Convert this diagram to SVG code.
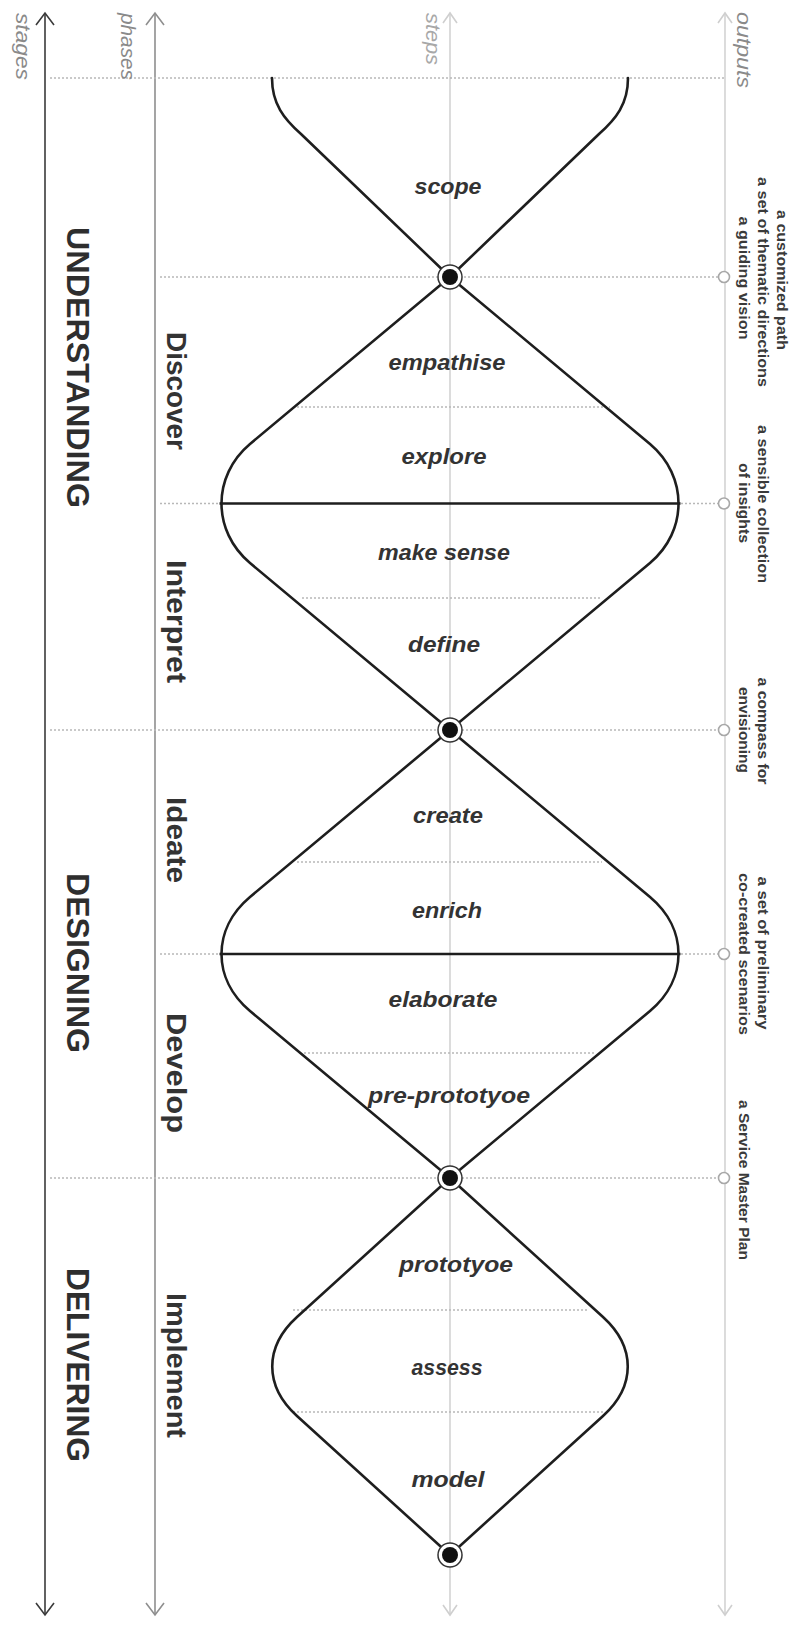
<svg xmlns="http://www.w3.org/2000/svg" width="795" height="1636" viewBox="0 0 795 1636">
  <defs>
    <style>
      .axis-stage{stroke:#3a3a3a;stroke-width:1.6;fill:none}
      .axis-phase{stroke:#8e8e8e;stroke-width:1.6;fill:none}
      .axis-light{stroke:#d8d8d8;stroke-width:1.8;fill:none}
      .dots{stroke:#b8b8b8;stroke-width:1.4;stroke-dasharray:2 2;fill:none}
      .curve{fill:none;stroke:#1e1e1e;stroke-width:2.6;stroke-linejoin:round;stroke-linecap:round}
      .divide{stroke:#1e1e1e;stroke-width:2.6}
      .out-dot{fill:#fff;stroke:#a8a8a8;stroke-width:1.6}
      .hub-ring{fill:#fff;stroke:#333;stroke-width:1.5}
      .hub-core{fill:#111}
      text{font-family:"Liberation Sans",Arial,sans-serif}
      .axis-label{font-style:italic;font-size:20px;fill:#8a8a8a}
      .axis-label.light{fill:#a8a8a8}
      .stage{font-weight:bold;font-size:32px;fill:#2e2e2e}
      .phase{font-weight:bold;font-size:28px;fill:#333}
      .step{font-weight:bold;font-style:italic;font-size:22px;fill:#333;text-anchor:middle}
      .output{font-weight:bold;font-size:15px;fill:#3a3a3a;text-anchor:middle}
    </style>
    <marker id="chev-dark" markerUnits="userSpaceOnUse" viewBox="0 0 13 20" refX="12" refY="10" markerWidth="13" markerHeight="20" orient="auto-start-reverse" overflow="visible">
      <path d="M0 1 L12 10 L0 19" fill="none" stroke="#3a3a3a" stroke-width="1.6"/>
    </marker>
    <marker id="chev-mid" markerUnits="userSpaceOnUse" viewBox="0 0 13 20" refX="12" refY="10" markerWidth="13" markerHeight="20" orient="auto-start-reverse" overflow="visible">
      <path d="M0 1 L12 10 L0 19" fill="none" stroke="#8e8e8e" stroke-width="1.6"/>
    </marker>
    <marker id="chev-light" markerUnits="userSpaceOnUse" viewBox="0 0 11 16" refX="10" refY="8" markerWidth="11" markerHeight="16" orient="auto-start-reverse" overflow="visible">
      <path d="M0 1 L10 8 L0 15" fill="none" stroke="#cfcfcf" stroke-width="1.6"/>
    </marker>
  </defs>

  <rect width="795" height="1636" fill="#fff"/>

  <!-- four vertical axes, double-headed -->
  <g id="axes">
    <line class="axis-stage" x1="45" y1="13" x2="45" y2="1615" marker-start="url(#chev-dark)" marker-end="url(#chev-dark)"/>
    <line class="axis-phase" x1="155" y1="13" x2="155" y2="1615" marker-start="url(#chev-mid)" marker-end="url(#chev-mid)"/>
    <line class="axis-light" x1="450" y1="13" x2="450" y2="1615" marker-start="url(#chev-light)" marker-end="url(#chev-light)"/>
    <line class="axis-light" x1="725" y1="13" x2="725" y2="1615" marker-start="url(#chev-light)" marker-end="url(#chev-light)"/>
  </g>

  <!-- dotted guide lines: stage, phase and step boundaries -->
  <g id="guides">
    <line class="dots" x1="50" y1="78" x2="725" y2="78"/>
    <line class="dots" x1="160" y1="277" x2="718" y2="277"/>
    <line class="dots" x1="160" y1="503.5" x2="220" y2="503.5"/>
    <line class="dots" x1="681" y1="503.5" x2="718" y2="503.5"/>
    <line class="dots" x1="50" y1="730" x2="718" y2="730"/>
    <line class="dots" x1="160" y1="954" x2="220" y2="954"/>
    <line class="dots" x1="681" y1="954" x2="718" y2="954"/>
    <line class="dots" x1="50" y1="1178" x2="718" y2="1178"/>
    <line class="dots" x1="297" y1="407" x2="610" y2="407"/>
    <line class="dots" x1="302" y1="598" x2="600" y2="598"/>
    <line class="dots" x1="297" y1="862" x2="602" y2="862"/>
    <line class="dots" x1="304" y1="1053" x2="596" y2="1053"/>
    <line class="dots" x1="293" y1="1310" x2="587" y2="1310"/>
    <line class="dots" x1="293" y1="1412" x2="603" y2="1412"/>
  </g>

  <!-- diverging / converging process shapes -->
  <g id="connectors">
    <path id="funnel-scope" class="curve" d="M272 78 C272 104 284 119 301 134 L450 277 L599 134 C616 119 628 104 628 78"/>
    <path id="diamond-understanding" class="curve" d="M450 277 L250 444 C212 476 212 531 250 563 L450 730 L650 563 C688 531 688 476 650 444 Z"/>
    <line class="divide" x1="219.5" y1="503.5" x2="680.5" y2="503.5"/>
    <path id="diamond-designing" class="curve" d="M450 730 L250 897 C212 929 212 979 250 1011 L450 1178 L650 1011 C688 979 688 929 650 897 Z"/>
    <line class="divide" x1="219.5" y1="954" x2="680.5" y2="954"/>
    <path id="diamond-delivering" class="curve" d="M450 1178 L297 1317 C264 1347 264 1386 297 1416 L450 1555 L603 1416 C636 1386 636 1347 603 1317 Z"/>
  </g>

  <!-- milestone hubs on the steps axis -->
  <g id="hub-1"><circle class="hub-ring" cx="450" cy="277" r="12"/><circle class="hub-core" cx="450" cy="277" r="8"/></g>
  <g id="hub-2"><circle class="hub-ring" cx="450" cy="730" r="12"/><circle class="hub-core" cx="450" cy="730" r="8"/></g>
  <g id="hub-3"><circle class="hub-ring" cx="450" cy="1178" r="12"/><circle class="hub-core" cx="450" cy="1178" r="8"/></g>
  <g id="hub-4"><circle class="hub-ring" cx="450" cy="1555" r="12"/><circle class="hub-core" cx="450" cy="1555" r="8"/></g>

  <!-- output markers on the outputs axis -->
  <g id="output-dots">
    <circle class="out-dot" cx="724" cy="277" r="5.5"/>
    <circle class="out-dot" cx="724" cy="503.5" r="5.5"/>
    <circle class="out-dot" cx="724" cy="730" r="5.5"/>
    <circle class="out-dot" cx="724" cy="954" r="5.5"/>
    <circle class="out-dot" cx="724" cy="1178" r="5.5"/>
  </g>

  <!-- axis titles -->
  <g id="axis-titles">
    <text class="axis-label" transform="translate(16 13) rotate(90)" textLength="67" lengthAdjust="spacingAndGlyphs">stages</text>
    <text class="axis-label" transform="translate(121 13) rotate(90)" textLength="67" lengthAdjust="spacingAndGlyphs">phases</text>
    <text class="axis-label light" transform="translate(426 13) rotate(90)" textLength="52" lengthAdjust="spacingAndGlyphs">steps</text>
    <text class="axis-label" transform="translate(737 12) rotate(90)" textLength="76" lengthAdjust="spacingAndGlyphs">outputs</text>
  </g>

  <!-- stages -->
  <g id="stage-understanding"><text class="stage" transform="translate(67 227) rotate(90)" textLength="281" lengthAdjust="spacingAndGlyphs">UNDERSTANDING</text></g>
  <g id="stage-designing"><text class="stage" transform="translate(67 873) rotate(90)" textLength="180" lengthAdjust="spacingAndGlyphs">DESIGNING</text></g>
  <g id="stage-delivering"><text class="stage" transform="translate(67 1268) rotate(90)" textLength="194" lengthAdjust="spacingAndGlyphs">DELIVERING</text></g>

  <!-- phases -->
  <g id="phase-discover"><text class="phase" transform="translate(167 332) rotate(90)" textLength="118" lengthAdjust="spacingAndGlyphs">Discover</text></g>
  <g id="phase-interpret"><text class="phase" transform="translate(167 560) rotate(90)" textLength="123" lengthAdjust="spacingAndGlyphs">Interpret</text></g>
  <g id="phase-ideate"><text class="phase" transform="translate(167 797) rotate(90)" textLength="86" lengthAdjust="spacingAndGlyphs">Ideate</text></g>
  <g id="phase-develop"><text class="phase" transform="translate(167 1013) rotate(90)" textLength="120" lengthAdjust="spacingAndGlyphs">Develop</text></g>
  <g id="phase-implement"><text class="phase" transform="translate(167 1293) rotate(90)" textLength="145" lengthAdjust="spacingAndGlyphs">Implement</text></g>

  <!-- steps -->
  <g id="steps">
    <g id="step-scope"><text class="step" x="448" y="194" textLength="67" lengthAdjust="spacingAndGlyphs">scope</text></g>
    <g id="step-empathise"><text class="step" x="447" y="370" textLength="117" lengthAdjust="spacingAndGlyphs">empathise</text></g>
    <g id="step-explore"><text class="step" x="444" y="464" textLength="85" lengthAdjust="spacingAndGlyphs">explore</text></g>
    <g id="step-make-sense"><text class="step" x="444" y="560" textLength="132" lengthAdjust="spacingAndGlyphs">make sense</text></g>
    <g id="step-define"><text class="step" x="444" y="652" textLength="72" lengthAdjust="spacingAndGlyphs">define</text></g>
    <g id="step-create"><text class="step" x="448" y="823" textLength="70" lengthAdjust="spacingAndGlyphs">create</text></g>
    <g id="step-enrich"><text class="step" x="447" y="918" textLength="70" lengthAdjust="spacingAndGlyphs">enrich</text></g>
    <g id="step-elaborate"><text class="step" x="443" y="1007" textLength="109" lengthAdjust="spacingAndGlyphs">elaborate</text></g>
    <g id="step-pre-prototype"><text class="step" x="449" y="1103" textLength="162" lengthAdjust="spacingAndGlyphs">pre-prototyoe</text></g>
    <g id="step-prototype"><text class="step" x="456" y="1272" textLength="114" lengthAdjust="spacingAndGlyphs">prototyoe</text></g>
    <g id="step-assess"><text class="step" x="447" y="1375" textLength="71" lengthAdjust="spacingAndGlyphs">assess</text></g>
    <g id="step-model"><text class="step" x="448" y="1487" textLength="73" lengthAdjust="spacingAndGlyphs">model</text></g>
  </g>

  <!-- outputs, lines stacked toward the axis -->
  <g id="output-1" transform="translate(739 280) rotate(90)">
    <text class="output" x="0" y="-38" textLength="140" lengthAdjust="spacingAndGlyphs">a customized path</text>
    <text class="output" x="2" y="-19" textLength="210" lengthAdjust="spacingAndGlyphs">a set of thematic directions</text>
    <text class="output" x="-2" y="0" textLength="123" lengthAdjust="spacingAndGlyphs">a guiding vision</text>
  </g>
  <g id="output-2" transform="translate(739 504) rotate(90)">
    <text class="output" x="0" y="-19" textLength="158" lengthAdjust="spacingAndGlyphs">a sensible collection</text>
    <text class="output" x="-1" y="0" textLength="80" lengthAdjust="spacingAndGlyphs">of insights</text>
  </g>
  <g id="output-3" transform="translate(739 731) rotate(90)">
    <text class="output" x="0" y="-19" textLength="107" lengthAdjust="spacingAndGlyphs">a compass for</text>
    <text class="output" x="-1" y="0" textLength="86" lengthAdjust="spacingAndGlyphs">envisioning</text>
  </g>
  <g id="output-4" transform="translate(739 954) rotate(90)">
    <text class="output" x="-1" y="-19" textLength="153" lengthAdjust="spacingAndGlyphs">a set of preliminary</text>
    <text class="output" x="0" y="0" textLength="162" lengthAdjust="spacingAndGlyphs">co-created scenarios</text>
  </g>
  <g id="output-5" transform="translate(739 1180) rotate(90)">
    <text class="output" x="0" y="0" textLength="160" lengthAdjust="spacingAndGlyphs">a Service Master Plan</text>
  </g>
</svg>
